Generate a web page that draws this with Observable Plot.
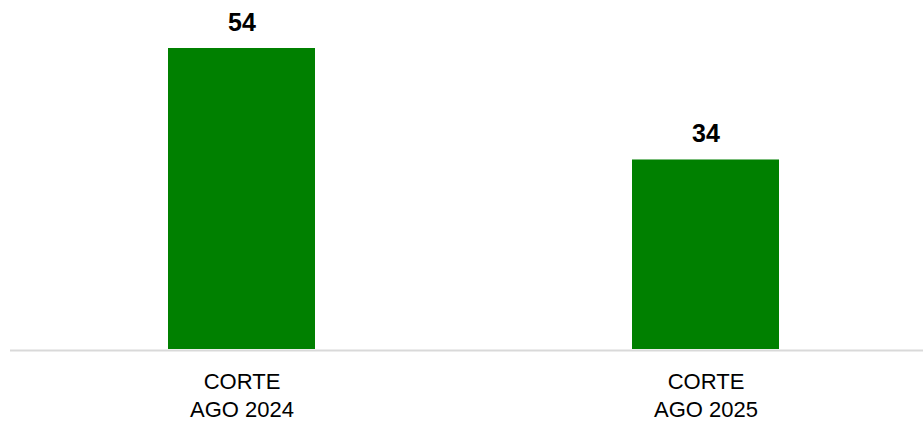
<!DOCTYPE html>
<html>
<head>
<meta charset="utf-8">
<script src="https://cdn.jsdelivr.net/npm/d3@7"></script>
<script src="https://cdn.jsdelivr.net/npm/@observablehq/plot@0.6"></script>
<style>
html,body{margin:0;padding:0;background:#fff;}
svg{display:block;}
</style>
</head>
<body>
<div id="chart"></div>
<script>
const categories = ["CORTE\nAGO 2024", "CORTE\nAGO 2025"];
const values = [54, 34];
const data = categories.map((c, i) => ({cat: c, value: values[i]}));

const font = "'Liberation Sans Narrow', 'Arial Narrow', 'Liberation Sans', Arial, sans-serif";

const chart = Plot.plot({
  width: 923,
  height: 430,
  marginLeft: 10,
  marginRight: 0,
  marginTop: 48,
  marginBottom: 81,
  style: {fontFamily: font, background: "#fff"},
  x: {domain: categories, paddingInner: 0.683, paddingOuter: 0.325, align: 0.523, label: null},
  y: {domain: [0, 54], axis: null},
  marks: [
    Plot.barY(data, {x: "cat", y: "value", fill: "#008000"}),
    Plot.ruleY([0], {stroke: "#d9d9d9", strokeWidth: 2, dy: 1}),
    Plot.text(data, {x: "cat", y: "value", text: d => String(d.value), dy: -26, fontSize: 25, fontWeight: "bold", fill: "#000"}),
    Plot.axisX({tickSize: 0, tickPadding: 20, fontSize: 22, lineHeight: 1.27, fill: "#000", label: null})
  ]
});
document.getElementById("chart").appendChild(chart);
</script>
</body>
</html>
